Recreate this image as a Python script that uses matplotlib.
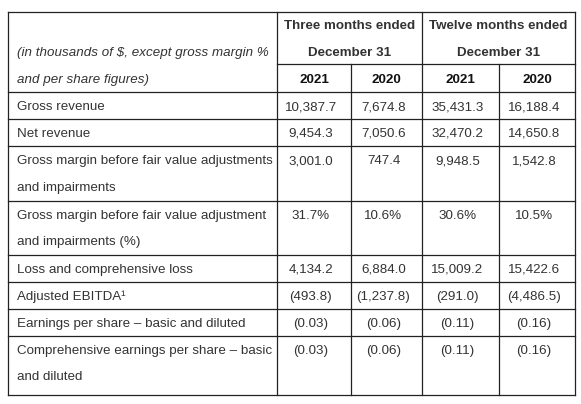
import matplotlib
matplotlib.use("Agg")
import matplotlib.pyplot as plt

plt.rcParams['font.family'] = ['Liberation Sans', 'DejaVu Sans']

row_labels = [
    ["Gross revenue"],
    ["Net revenue"],
    ["Gross margin before fair value adjustments", "and impairments"],
    ["Gross margin before fair value adjustment", "and impairments (%)"],
    ["Loss and comprehensive loss"],
    ["Adjusted EBITDA\u00b9"],
    ["Earnings per share \u2013 basic and diluted"],
    ["Comprehensive earnings per share \u2013 basic", "and diluted"],
]
q2021 = ["10,387.7", "9,454.3", "3,001.0", "31.7%", "4,134.2", "(493.8)", "(0.03)", "(0.03)"]
q2020 = ["7,674.8", "7,050.6", "747.4", "10.6%", "6,884.0", "(1,237.8)", "(0.06)", "(0.06)"]
y2021 = ["35,431.3", "32,470.2", "9,948.5", "30.6%", "15,009.2", "(291.0)", "(0.11)", "(0.11)"]
y2020 = ["16,188.4", "14,650.8", "1,542.8", "10.5%", "15,422.6", "(4,486.5)", "(0.16)", "(0.16)"]
group_headers = [["Three months ended", "December 31"], ["Twelve months ended", "December 31"]]
year_headers = ["2021", "2020", "2021", "2020"]
unit_note = ["(in thousands of $, except gross margin %", "and per share figures)"]

W, H = 581, 404
fig = plt.figure(figsize=(W / 100, H / 100), dpi=100)
ax = fig.add_axes([0, 0, 1, 1])
ax.set_xlim(0, W)
ax.set_ylim(H, 0)
ax.axis('off')

xs = [8, 277, 351, 422, 499, 575]
row_bounds = [12, 92, 119, 146, 201, 255, 282, 309, 336, 395]
lc = '#222222'
lw = 0.9
fs = 9.6
tc = '#333333'

for y in row_bounds:
    ax.plot([xs[0], xs[-1]], [y, y], color=lc, lw=lw)
ax.plot([xs[1], xs[-1]], [64, 64], color=lc, lw=lw)
for x in [xs[0], xs[1], xs[3], xs[-1]]:
    ax.plot([x, x], [row_bounds[0], row_bounds[-1]], color=lc, lw=lw)
for x in [xs[2], xs[4]]:
    ax.plot([x, x], [64, row_bounds[-1]], color=lc, lw=lw)

for gi, lines in enumerate(group_headers):
    cx = (xs[1 + 2 * gi] + xs[3 + 2 * gi]) / 2
    ax.text(cx, 26, lines[0], ha='center', va='center', fontsize=fs, fontweight='bold', color=tc)
    ax.text(cx, 53, lines[1], ha='center', va='center', fontsize=fs, fontweight='bold', color=tc)
for i, yh in enumerate(year_headers):
    ax.text((xs[1 + i] + xs[2 + i]) / 2, 80, yh, ha='center', va='center', fontsize=fs, fontweight='bold', color='#111111')
ax.text(17, 53, unit_note[0], ha='left', va='center', fontsize=fs, style='italic', color=tc)
ax.text(17, 80, unit_note[1], ha='left', va='center', fontsize=fs, style='italic', color=tc)

cols = [q2021, q2020, y2021, y2020]
for r, labels in enumerate(row_labels):
    top = row_bounds[1 + r]
    y0 = top + 15
    for k, lab in enumerate(labels):
        ax.text(17, y0 + 26.5 * k, lab, ha='left', va='center', fontsize=fs, color=tc)
    for c, col in enumerate(cols):
        ax.text((xs[1 + c] + xs[2 + c]) / 2 - 3, y0, col[r], ha='center', va='center', fontsize=fs, color=tc)

fig.savefig("out.png", dpi=100, facecolor='white')
